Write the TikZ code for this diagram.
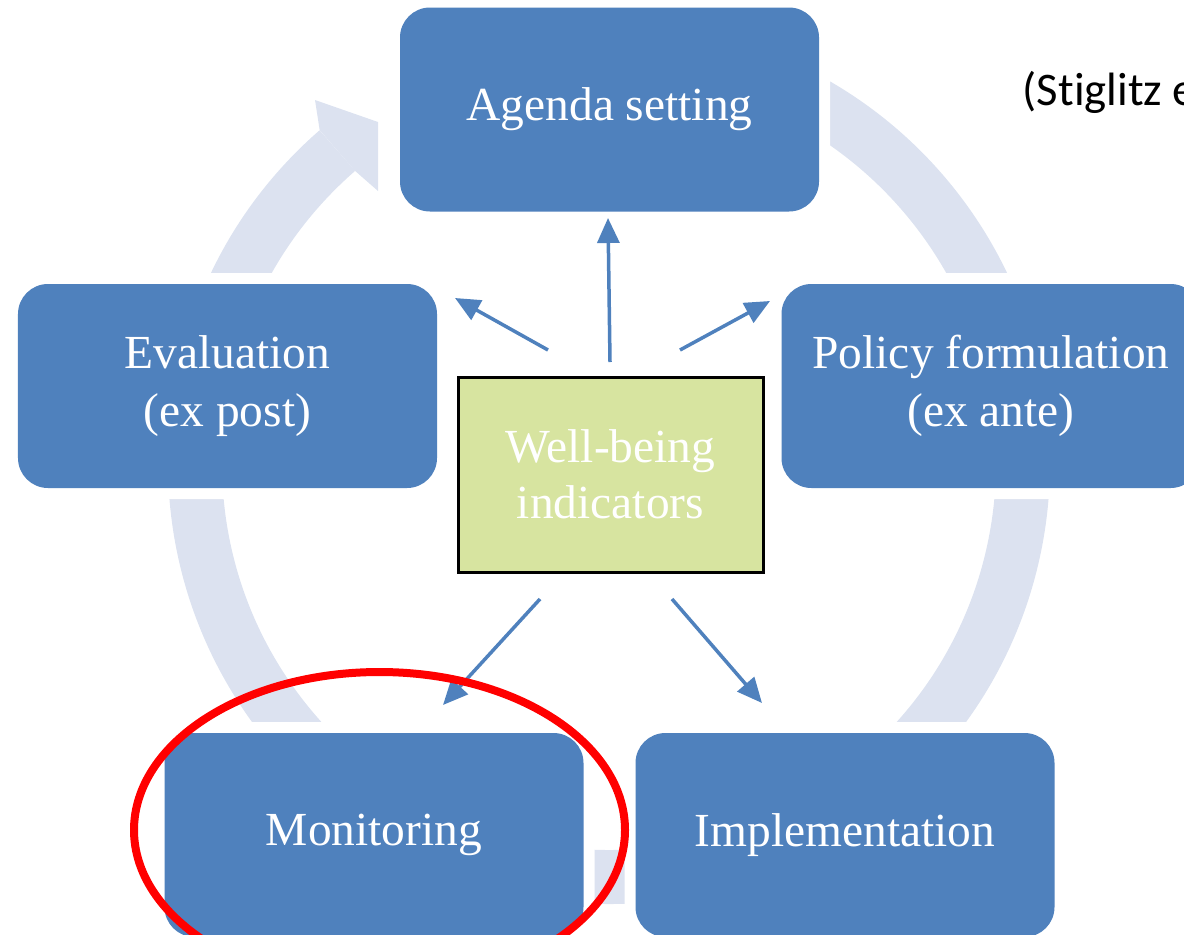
\documentclass[tikz,border=0pt]{standalone}
\usepackage{fontspec}
\setmainfont{Liberation Serif}
\newfontfamily\citefont[Ligatures=NoCommon]{Carlito}
\usetikzlibrary{arrows.meta}
\definecolor{boxblue}{HTML}{4F81BD}
\definecolor{ringblue}{HTML}{DCE2F0}
\definecolor{wbgreen}{HTML}{D7E4A0}
\definecolor{markred}{HTML}{FF0000}
\begin{document}
\begin{tikzpicture}[
        stage/.style={fill=boxblue, rounded corners=0.3cm, minimum width=4.19cm,
            minimum height=2.04cm, inner sep=0pt, text=white, align=center,
            font=\fontsize{13.5}{16.5}\selectfont,
            preaction={draw=white, line width=0.22cm}},
        core/.style={fill=wbgreen, draw=black, line width=0.03cm, minimum width=3.05cm,
            minimum height=1.95cm, inner sep=0pt, text=white, align=center,
            font=\fontsize{13.5}{15.8}\selectfont},
        ringarc/.style={draw=ringblue, line width=0.54cm},
        flow/.style={draw=boxblue, line width=0.035cm, -{Triangle[length=0.25cm, width=0.22cm]}}
    ]
    \useasboundingbox (0,0) rectangle (11.84,9.34);
    \clip (0,0) rectangle (11.84,9.34);

    % cycle ring behind the stages
    \coordinate (hub) at (6.09,4.71);
    \draw[ringarc] ([shift={(131:4.14)}]hub) arc[start angle=131, end angle=440, radius=4.14];
    \fill[ringblue] ([shift={(131:4.41)}]hub) -- (3.15,8.34) -- (3.78,8.12) -- (3.78,7.43) -- ([shift={(131:3.87)}]hub) -- cycle;

    % stages
    \node[stage] (agenda) at (6.095,8.245) {Agenda setting};
    \node[stage] (evaluation) at (2.275,5.48) {Evaluation\\(ex post)};
    \node[stage] (policy) at (9.91,5.48) {Policy formulation\\(ex ante)};
    \node[stage] (monitoring) at (3.74,0.99) {Monitoring};
    \node[stage] (implementation) at (8.45,0.99) {Implementation};
    \node[core] (wb) at (6.105,4.595) {Well-being\\indicators};

    % arrows out of the indicators
    \coordinate (agenda-s) at (6.10,5.72);
    \coordinate (agenda-e) at (6.08,7.16);
    \coordinate (evaluation-s) at (5.48,5.84);
    \coordinate (evaluation-e) at (4.55,6.36);
    \coordinate (policy-s) at (6.80,5.84);
    \coordinate (policy-e) at (7.70,6.33);
    \coordinate (monitoring-s) at (5.40,3.35);
    \coordinate (monitoring-e) at (4.43,2.29);
    \coordinate (implementation-s) at (6.72,3.35);
    \coordinate (implementation-e) at (7.62,2.31);
    \draw[flow] (agenda-s) -- (agenda-e);
    \draw[flow] (evaluation-s) -- (evaluation-e);
    \draw[flow] (policy-s) -- (policy-e);
    \draw[flow] (monitoring-s) -- (monitoring-e);
    \draw[flow] (implementation-s) -- (implementation-e);

    % citation and highlight
    \node[anchor=base west, inner sep=0pt, font=\citefont\fontsize{13.3}{15}\selectfont] (cite) at (10.22,8.29) {(Stiglitz e};
    \draw[markred, line width=0.08cm] (3.795,1.04) ellipse[x radius=2.455, y radius=1.58];
\end{tikzpicture}
\end{document}
